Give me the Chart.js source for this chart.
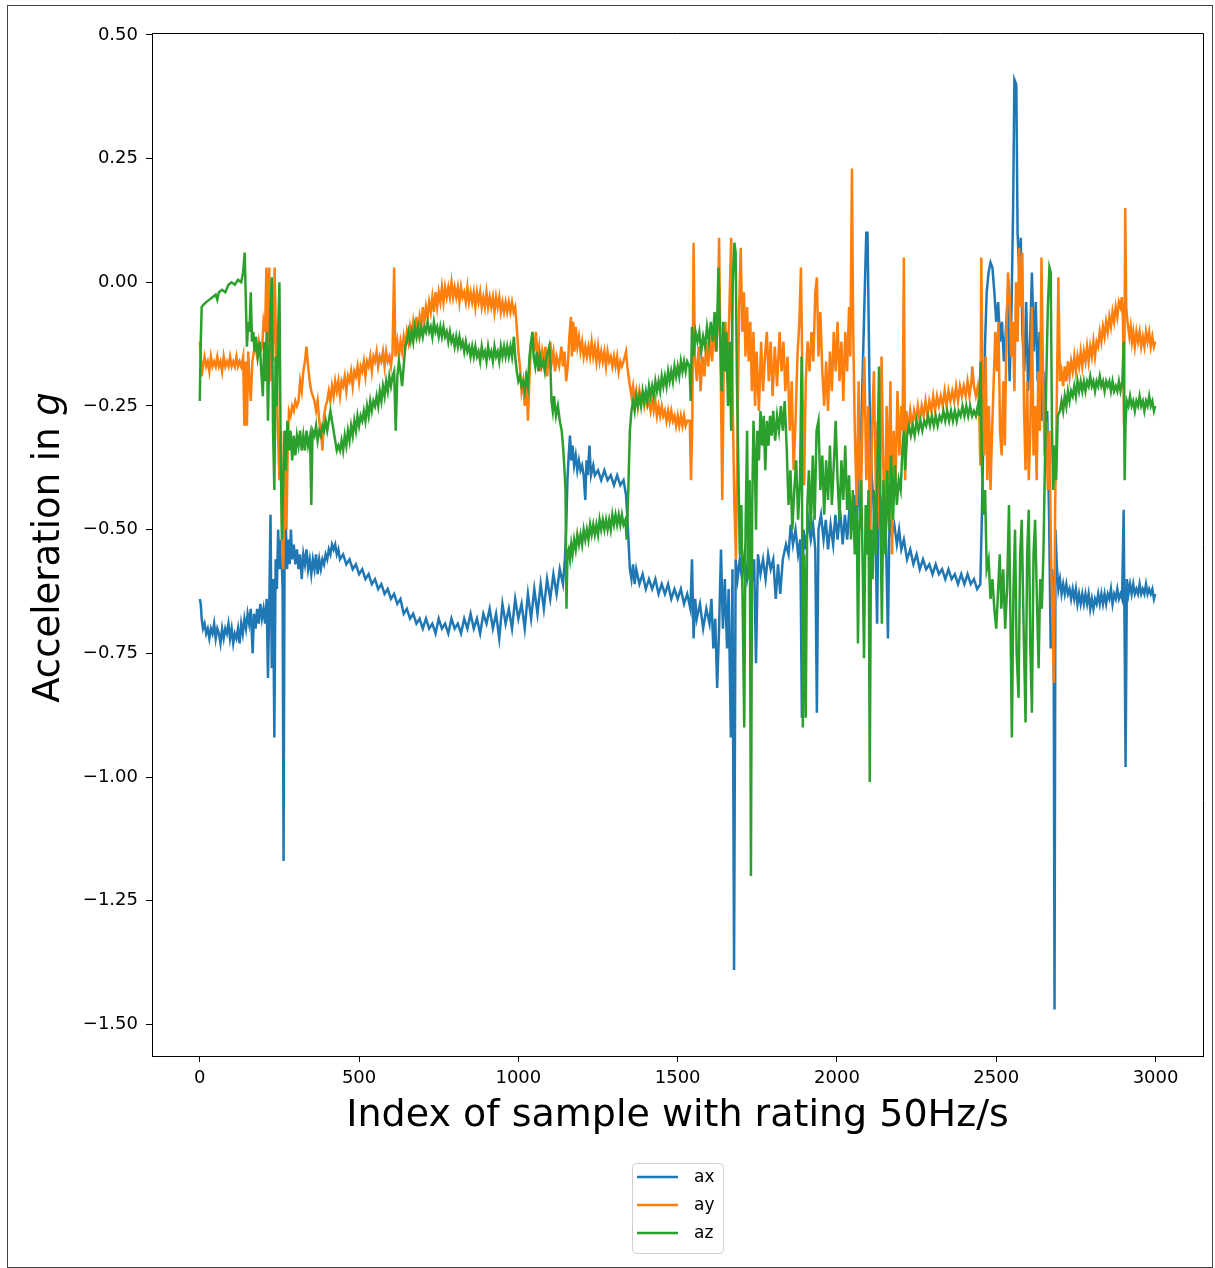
<!DOCTYPE html>
<html>
<head>
<meta charset="utf-8">
<script src="https://cdn.jsdelivr.net/npm/chart.js@4.4.0/dist/chart.umd.min.js"></script>
<style>
  html, body { margin: 0; padding: 0; background: #fff; }
  #wrap { width: 1215px; height: 1268px; position: relative; }
</style>
</head>
<body>
<div id="wrap"><canvas id="myChart" width="1215" height="1268"></canvas></div>
<script>
// ------------- data -------------

const xTicks = [0, 500, 1000, 1500, 2000, 2500, 3000];
const yTicks = [0.5, 0.25, 0, -0.25, -0.5, -0.75, -1, -1.25, -1.5];
const seriesNames = ["ax", "ay", "az"];
const seriesColors = ["#1f77b4", "#ff7f0e", "#2ca02c"];
const xTitle = "Index of sample with rating 50Hz/s";
const yTitle = "Acceleration in ";
const yTitleItalic = "g";

// [sample index, acceleration in g]
const ax = [
  [0,-0.64],[3,-0.65],[6,-0.68],[10,-0.70],[15,-0.69],[20,-0.71],[25,-0.70],[30,-0.72],[35,-0.70],[40,-0.71],
  [45,-0.69],[50,-0.72],[55,-0.70],[60,-0.71],[65,-0.73],[70,-0.70],[75,-0.72],[80,-0.70],[85,-0.71],[90,-0.69],
  [95,-0.72],[100,-0.70],[105,-0.73],[110,-0.71],[115,-0.72],[120,-0.70],[125,-0.73],[130,-0.69],[135,-0.71],[140,-0.68],
  [145,-0.70],[150,-0.67],[155,-0.69],[160,-0.66],[166,-0.75],[170,-0.67],[175,-0.70],[180,-0.66],[185,-0.69],[190,-0.65],
  [195,-0.68],[200,-0.66],[205,-0.69],[210,-0.64],[214,-0.80],[218,-0.66],[222,-0.47],[226,-0.78],[230,-0.60],[234,-0.92],
  [238,-0.56],[242,-0.62],[246,-0.50],[250,-0.58],[255,-0.52],[260,-0.62],[263,-1.17],[266,-0.56],[270,-0.49],[274,-0.58],
  [278,-0.52],[282,-0.57],[286,-0.50],[290,-0.56],[295,-0.53],[300,-0.57],[305,-0.54],[310,-0.58],[315,-0.55],[320,-0.60],
  [325,-0.55],[330,-0.57],[335,-0.54],[340,-0.58],[345,-0.56],[350,-0.59],[355,-0.56],[360,-0.58],[365,-0.55],[370,-0.59],
  [375,-0.56],[380,-0.58],[385,-0.56],[390,-0.57],[395,-0.55],[400,-0.56],[405,-0.54],[410,-0.55],[415,-0.53],[420,-0.54],
  [425,-0.53],[430,-0.55],[435,-0.54],[440,-0.56],[450,-0.55],[460,-0.57],[470,-0.56],[480,-0.58],[490,-0.57],[500,-0.59],
  [510,-0.58],[520,-0.60],[530,-0.59],[540,-0.61],[550,-0.60],[560,-0.62],[570,-0.61],[580,-0.63],[590,-0.62],[600,-0.64],
  [610,-0.63],[620,-0.65],[630,-0.64],[640,-0.67],[650,-0.66],[660,-0.68],[670,-0.67],[680,-0.69],[690,-0.68],[700,-0.70],
  [710,-0.68],[720,-0.70],[730,-0.69],[740,-0.71],[750,-0.68],[760,-0.70],[770,-0.69],[780,-0.71],[790,-0.68],[800,-0.70],
  [810,-0.69],[820,-0.71],[830,-0.68],[840,-0.70],[850,-0.67],[860,-0.70],[870,-0.68],[880,-0.71],[890,-0.67],[900,-0.69],
  [910,-0.66],[920,-0.70],[930,-0.67],[940,-0.72],[950,-0.65],[960,-0.69],[970,-0.66],[980,-0.70],[990,-0.64],[1000,-0.68],
  [1010,-0.65],[1020,-0.70],[1030,-0.63],[1040,-0.68],[1050,-0.62],[1060,-0.67],[1070,-0.61],[1080,-0.66],[1090,-0.60],[1100,-0.64],
  [1110,-0.59],[1120,-0.63],[1130,-0.58],[1140,-0.61],[1146,-0.56],[1150,-0.50],[1154,-0.40],[1158,-0.35],[1162,-0.31],[1166,-0.36],
  [1170,-0.33],[1175,-0.37],[1180,-0.35],[1185,-0.38],[1190,-0.36],[1195,-0.38],[1200,-0.37],[1205,-0.39],[1210,-0.44],[1214,-0.36],
  [1218,-0.39],[1223,-0.33],[1228,-0.39],[1235,-0.37],[1240,-0.39],[1250,-0.38],[1260,-0.40],[1270,-0.38],[1280,-0.40],[1290,-0.39],
  [1300,-0.41],[1310,-0.39],[1320,-0.41],[1330,-0.40],[1338,-0.43],[1344,-0.50],[1350,-0.58],[1355,-0.60],[1360,-0.57],[1365,-0.61],
  [1370,-0.58],[1380,-0.61],[1390,-0.59],[1400,-0.62],[1410,-0.60],[1420,-0.62],[1430,-0.60],[1440,-0.63],[1450,-0.61],[1460,-0.63],
  [1470,-0.61],[1480,-0.64],[1490,-0.62],[1500,-0.64],[1510,-0.62],[1520,-0.65],[1530,-0.63],[1540,-0.66],[1545,-0.56],[1550,-0.72],
  [1555,-0.64],[1560,-0.68],[1570,-0.65],[1580,-0.70],[1590,-0.66],[1600,-0.69],[1606,-0.64],[1612,-0.74],[1618,-0.68],[1624,-0.82],
  [1630,-0.70],[1636,-0.54],[1642,-0.70],[1648,-0.60],[1655,-0.74],[1660,-0.62],[1667,-0.92],[1672,-0.58],[1677,-1.39],[1682,-0.56],
  [1688,-0.60],[1695,-0.56],[1702,-0.60],[1710,-0.55],[1718,-0.60],[1725,-0.57],[1732,-0.61],[1740,-0.56],[1746,-0.77],[1752,-0.55],
  [1760,-0.59],[1768,-0.56],[1776,-0.60],[1784,-0.55],[1792,-0.58],[1800,-0.56],[1808,-0.64],[1815,-0.57],[1822,-0.63],[1830,-0.56],
  [1840,-0.53],[1848,-0.55],[1855,-0.49],[1862,-0.53],[1870,-0.50],[1878,-0.55],[1885,-0.52],[1890,-0.88],[1895,-0.50],[1902,-0.54],
  [1910,-0.48],[1918,-0.52],[1925,-0.49],[1932,-0.54],[1937,-0.87],[1942,-0.50],[1950,-0.47],[1958,-0.52],[1965,-0.48],[1972,-0.54],
  [1980,-0.49],[1988,-0.53],[1995,-0.47],[2002,-0.52],[2010,-0.46],[2018,-0.53],[2025,-0.47],[2032,-0.52],[2040,-0.45],[2048,-0.50],
  [2055,-0.43],[2062,-0.48],[2070,-0.40],[2076,-0.30],[2082,-0.15],[2088,0.00],[2092,0.10],[2096,0.10],[2100,-0.10],[2104,-0.30],
  [2110,-0.40],[2116,-0.46],[2122,-0.55],[2126,-0.69],[2130,-0.47],[2136,-0.43],[2142,-0.50],[2148,-0.46],[2154,-0.52],[2160,-0.72],
  [2165,-0.48],[2172,-0.51],[2180,-0.49],[2188,-0.53],[2195,-0.50],[2202,-0.54],[2210,-0.52],[2220,-0.56],[2230,-0.54],[2240,-0.57],
  [2250,-0.55],[2260,-0.58],[2270,-0.56],[2280,-0.58],[2290,-0.57],[2300,-0.59],[2310,-0.57],[2320,-0.59],[2330,-0.58],[2340,-0.60],
  [2350,-0.58],[2360,-0.60],[2370,-0.59],[2380,-0.61],[2390,-0.59],[2400,-0.61],[2410,-0.59],[2420,-0.61],[2430,-0.60],[2440,-0.62],
  [2450,-0.61],[2455,-0.47],[2460,-0.30],[2465,-0.12],[2470,-0.02],[2476,0.02],[2482,0.04],[2488,0.03],[2494,-0.02],[2500,-0.08],
  [2506,-0.04],[2512,-0.12],[2518,-0.08],[2524,-0.16],[2530,-0.10],[2536,-0.03],[2542,-0.20],[2548,-0.05],[2553,0.15],[2557,0.41],
  [2563,0.40],[2567,0.10],[2572,0.02],[2577,0.09],[2582,-0.10],[2588,-0.18],[2594,-0.04],[2600,-0.22],[2606,-0.12],[2612,0.02],
  [2618,-0.14],[2624,-0.04],[2630,-0.20],[2636,-0.10],[2642,-0.28],[2648,-0.18],[2654,-0.32],[2660,-0.26],[2666,-0.48],[2671,-0.74],
  [2676,-0.58],[2680,-0.64],[2683,-1.47],[2686,-0.50],[2690,-0.57],[2695,-0.62],[2700,-0.60],[2705,-0.63],[2710,-0.61],[2715,-0.63],
  [2720,-0.61],[2725,-0.63],[2730,-0.62],[2735,-0.64],[2740,-0.62],[2745,-0.64],[2750,-0.62],[2755,-0.65],[2760,-0.63],[2765,-0.65],
  [2770,-0.63],[2775,-0.65],[2780,-0.63],[2785,-0.65],[2790,-0.63],[2795,-0.66],[2800,-0.64],[2805,-0.66],[2810,-0.64],[2815,-0.65],
  [2820,-0.63],[2825,-0.65],[2830,-0.63],[2835,-0.65],[2840,-0.63],[2845,-0.65],[2850,-0.63],[2855,-0.64],[2860,-0.62],[2865,-0.65],
  [2870,-0.63],[2875,-0.64],[2880,-0.62],[2885,-0.64],[2890,-0.63],[2895,-0.64],[2900,-0.46],[2903,-0.72],[2906,-0.98],[2910,-0.60],
  [2915,-0.63],[2920,-0.61],[2925,-0.63],[2930,-0.61],[2935,-0.63],[2940,-0.62],[2945,-0.63],[2950,-0.61],[2955,-0.63],[2960,-0.62],
  [2965,-0.63],[2970,-0.61],[2975,-0.63],[2980,-0.62],[2985,-0.63],[2990,-0.62],[2995,-0.64],[2999,-0.63]
];

const ay = [
  [0,-0.12],[3,-0.15],[6,-0.19],[10,-0.17],[15,-0.15],[20,-0.17],[25,-0.16],[30,-0.18],[35,-0.15],[40,-0.17],
  [45,-0.16],[50,-0.17],[55,-0.15],[60,-0.17],[65,-0.16],[70,-0.18],[75,-0.15],[80,-0.17],[85,-0.16],[90,-0.17],
  [95,-0.15],[100,-0.17],[105,-0.16],[110,-0.17],[115,-0.15],[120,-0.17],[125,-0.16],[130,-0.17],[136,-0.15],[140,-0.29],
  [144,-0.16],[148,-0.29],[152,-0.14],[156,-0.20],[160,-0.24],[165,-0.16],[170,-0.14],[175,-0.13],[180,-0.15],[185,-0.12],
  [190,-0.14],[196,-0.13],[200,-0.08],[205,-0.10],[209,0.03],[213,-0.12],[218,0.03],[222,-0.20],[226,-0.05],[230,-0.16],
  [235,0.03],[240,-0.15],[245,-0.30],[250,-0.40],[255,-0.30],[259,-0.55],[262,-0.58],[265,-0.42],[268,-0.30],[272,-0.50],
  [276,-0.34],[280,-0.26],[285,-0.27],[290,-0.25],[295,-0.26],[300,-0.24],[305,-0.25],[310,-0.24],[315,-0.20],[320,-0.22],
  [325,-0.18],[330,-0.16],[335,-0.13],[340,-0.17],[345,-0.20],[350,-0.22],[355,-0.23],[360,-0.24],[365,-0.26],[370,-0.24],
  [375,-0.28],[380,-0.30],[385,-0.34],[390,-0.27],[395,-0.25],[400,-0.24],[405,-0.22],[410,-0.24],[415,-0.21],[420,-0.23],
  [425,-0.20],[430,-0.22],[435,-0.20],[440,-0.23],[445,-0.20],[450,-0.21],[455,-0.19],[460,-0.22],[465,-0.19],[470,-0.20],
  [475,-0.18],[480,-0.21],[485,-0.18],[490,-0.19],[495,-0.17],[500,-0.20],[505,-0.17],[510,-0.18],[515,-0.16],[520,-0.19],
  [525,-0.16],[530,-0.17],[535,-0.15],[540,-0.18],[545,-0.15],[550,-0.16],[555,-0.14],[560,-0.17],[565,-0.15],[570,-0.16],
  [575,-0.14],[580,-0.17],[585,-0.14],[590,-0.16],[595,-0.15],[600,-0.17],[605,-0.14],[610,0.03],[614,-0.15],[620,-0.12],
  [625,-0.15],[630,-0.12],[635,-0.14],[640,-0.11],[645,-0.13],[650,-0.10],[655,-0.12],[660,-0.09],[665,-0.11],[670,-0.08],
  [675,-0.11],[680,-0.07],[685,-0.10],[690,-0.07],[695,-0.09],[700,-0.05],[705,-0.08],[710,-0.05],[715,-0.07],[720,-0.04],
  [725,-0.06],[730,-0.03],[735,-0.06],[740,-0.02],[745,-0.05],[750,-0.02],[755,-0.04],[760,-0.01],[765,-0.04],[770,-0.01],
  [775,-0.03],[780,-0.01],[785,-0.03],[790,0.00],[795,-0.03],[800,-0.01],[805,-0.03],[810,-0.01],[815,-0.04],[820,-0.01],
  [825,-0.03],[830,-0.02],[835,-0.04],[840,-0.01],[845,-0.04],[850,-0.02],[855,-0.04],[860,-0.02],[865,-0.05],[870,-0.02],
  [875,-0.04],[880,-0.02],[885,-0.05],[890,-0.03],[895,-0.05],[900,-0.02],[905,-0.05],[910,-0.03],[915,-0.05],[920,-0.03],
  [925,-0.06],[930,-0.03],[935,-0.05],[940,-0.03],[945,-0.06],[950,-0.04],[955,-0.06],[960,-0.04],[965,-0.06],[970,-0.04],
  [975,-0.06],[980,-0.04],[985,-0.06],[990,-0.05],[995,-0.09],[1000,-0.14],[1005,-0.17],[1010,-0.22],[1015,-0.20],[1020,-0.25],
  [1025,-0.18],[1030,-0.28],[1035,-0.19],[1040,-0.12],[1045,-0.11],[1050,-0.14],[1055,-0.10],[1060,-0.15],[1065,-0.13],[1070,-0.18],
  [1075,-0.14],[1080,-0.16],[1085,-0.13],[1090,-0.19],[1095,-0.15],[1100,-0.12],[1105,-0.16],[1110,-0.14],[1115,-0.18],[1120,-0.15],
  [1128,-0.17],[1135,-0.13],[1140,-0.17],[1145,-0.14],[1150,-0.20],[1155,-0.17],[1160,-0.11],[1165,-0.07],[1168,-0.15],[1172,-0.08],
  [1176,-0.14],[1180,-0.09],[1185,-0.13],[1190,-0.11],[1195,-0.14],[1200,-0.12],[1205,-0.15],[1210,-0.13],[1215,-0.15],[1220,-0.13],
  [1225,-0.15],[1230,-0.12],[1235,-0.15],[1240,-0.13],[1245,-0.16],[1250,-0.13],[1255,-0.16],[1260,-0.14],[1265,-0.16],[1270,-0.14],
  [1275,-0.17],[1280,-0.14],[1285,-0.16],[1290,-0.15],[1295,-0.17],[1300,-0.15],[1305,-0.17],[1310,-0.15],[1315,-0.18],[1320,-0.16],
  [1325,-0.17],[1330,-0.16],[1338,-0.14],[1342,-0.17],[1348,-0.20],[1355,-0.23],[1360,-0.21],[1365,-0.24],[1370,-0.22],[1375,-0.25],
  [1380,-0.22],[1385,-0.24],[1390,-0.23],[1395,-0.25],[1400,-0.23],[1405,-0.25],[1410,-0.24],[1415,-0.26],[1420,-0.24],[1425,-0.26],
  [1430,-0.24],[1435,-0.27],[1440,-0.25],[1445,-0.27],[1450,-0.25],[1455,-0.27],[1460,-0.26],[1465,-0.28],[1470,-0.26],[1475,-0.28],
  [1480,-0.26],[1485,-0.28],[1490,-0.27],[1495,-0.29],[1500,-0.27],[1505,-0.29],[1510,-0.27],[1515,-0.29],[1520,-0.27],[1525,-0.29],
  [1530,-0.28],[1538,-0.28],[1542,-0.40],[1546,-0.28],[1550,0.08],[1554,-0.15],[1560,-0.20],[1566,-0.13],[1572,-0.22],[1578,-0.15],
  [1584,-0.19],[1590,-0.12],[1596,-0.17],[1602,-0.11],[1608,-0.16],[1614,-0.10],[1620,-0.14],[1626,-0.09],[1630,0.09],[1634,-0.12],
  [1640,-0.44],[1645,-0.15],[1650,-0.08],[1656,-0.20],[1662,-0.06],[1668,0.09],[1673,-0.25],[1678,-0.45],[1683,-0.56],[1688,-0.30],
  [1693,-0.05],[1698,0.07],[1703,-0.10],[1708,-0.02],[1713,-0.15],[1718,-0.05],[1723,-0.16],[1728,-0.08],[1733,-0.22],[1738,-0.10],
  [1743,-0.25],[1748,-0.14],[1755,-0.26],[1762,-0.12],[1768,-0.22],[1775,-0.14],[1780,-0.10],[1786,-0.20],[1792,-0.12],[1798,-0.23],
  [1805,-0.13],[1812,-0.21],[1820,-0.10],[1826,-0.18],[1832,-0.12],[1838,-0.22],[1845,-0.15],[1852,-0.30],[1858,-0.20],[1864,-0.38],
  [1870,-0.28],[1876,-0.15],[1882,-0.08],[1887,0.03],[1892,-0.22],[1897,-0.41],[1902,-0.20],[1908,-0.12],[1914,-0.18],[1920,-0.10],
  [1926,-0.16],[1932,-0.02],[1937,0.01],[1942,-0.15],[1948,-0.06],[1954,-0.18],[1960,-0.25],[1966,-0.16],[1972,-0.26],[1978,-0.14],
  [1984,-0.22],[1990,-0.10],[1996,-0.18],[2002,-0.08],[2008,-0.20],[2014,-0.12],[2020,-0.24],[2026,-0.10],[2032,-0.18],[2038,-0.05],
  [2042,-0.15],[2047,0.23],[2051,-0.10],[2056,-0.30],[2062,-0.45],[2068,-0.20],[2074,-0.50],[2080,-0.28],[2086,-0.15],[2092,-0.40],
  [2098,-0.25],[2104,-0.55],[2110,-0.30],[2116,-0.18],[2122,-0.42],[2128,-0.28],[2134,-0.50],[2140,-0.15],[2145,-0.35],[2150,-0.52],
  [2156,-0.25],[2162,-0.40],[2168,-0.20],[2173,-0.55],[2178,-0.30],[2184,-0.40],[2190,-0.22],[2196,-0.35],[2202,-0.25],[2206,-0.30],
  [2210,0.05],[2214,-0.40],[2218,-0.26],[2224,-0.30],[2230,-0.26],[2236,-0.29],[2242,-0.26],[2248,-0.28],[2254,-0.25],[2260,-0.28],
  [2266,-0.25],[2272,-0.27],[2278,-0.24],[2284,-0.27],[2290,-0.24],[2296,-0.26],[2302,-0.23],[2308,-0.26],[2314,-0.23],[2320,-0.25],
  [2326,-0.23],[2332,-0.25],[2338,-0.22],[2344,-0.25],[2350,-0.22],[2356,-0.24],[2362,-0.22],[2368,-0.24],[2374,-0.21],[2380,-0.24],
  [2386,-0.21],[2392,-0.23],[2398,-0.21],[2404,-0.23],[2410,-0.20],[2416,-0.23],[2422,-0.20],[2425,-0.17],[2430,-0.21],[2436,-0.23],
  [2442,-0.21],[2446,-0.24],[2450,-0.37],[2453,0.05],[2457,-0.20],[2462,-0.35],[2467,-0.15],[2472,-0.40],[2477,-0.25],[2482,-0.42],
  [2487,-0.30],[2492,-0.20],[2497,-0.10],[2502,-0.18],[2507,-0.08],[2512,-0.30],[2517,-0.35],[2522,-0.20],[2527,-0.33],[2532,-0.10],
  [2537,0.02],[2542,-0.03],[2547,-0.15],[2552,-0.08],[2557,-0.22],[2562,0.00],[2567,-0.12],[2572,0.07],[2577,-0.05],[2582,0.06],
  [2587,-0.25],[2592,-0.38],[2597,-0.20],[2602,-0.40],[2607,-0.30],[2612,-0.05],[2617,-0.35],[2622,-0.25],[2627,-0.40],[2632,-0.18],
  [2637,-0.30],[2642,0.05],[2647,-0.20],[2652,-0.35],[2657,-0.28],[2662,-0.42],[2667,-0.30],[2672,-0.55],[2677,-0.70],[2681,-0.81],
  [2685,-0.45],[2690,-0.24],[2695,0.01],[2700,-0.20],[2705,-0.18],[2710,-0.21],[2715,-0.17],[2720,-0.20],[2725,-0.16],[2730,-0.19],
  [2735,-0.16],[2740,-0.18],[2745,-0.15],[2750,-0.18],[2755,-0.15],[2760,-0.17],[2765,-0.14],[2770,-0.17],[2775,-0.14],[2780,-0.16],
  [2785,-0.13],[2790,-0.16],[2795,-0.13],[2800,-0.15],[2805,-0.12],[2810,-0.15],[2815,-0.12],[2820,-0.13],[2825,-0.10],[2830,-0.12],
  [2835,-0.09],[2840,-0.11],[2845,-0.08],[2850,-0.10],[2855,-0.07],[2860,-0.09],[2865,-0.06],[2870,-0.08],[2875,-0.05],[2880,-0.07],
  [2885,-0.04],[2890,-0.05],[2894,-0.03],[2898,-0.08],[2901,-0.29],[2905,0.15],[2908,-0.05],[2912,-0.08],[2918,-0.11],[2922,-0.09],
  [2926,-0.12],[2930,-0.10],[2935,-0.13],[2940,-0.10],[2945,-0.12],[2950,-0.10],[2955,-0.13],[2960,-0.11],[2965,-0.13],[2970,-0.10],
  [2975,-0.12],[2980,-0.10],[2985,-0.13],[2990,-0.11],[2995,-0.13],[2999,-0.12]
];

const az = [
  [0,-0.24],[3,-0.12],[6,-0.05],[12,-0.045],[20,-0.04],[30,-0.035],[40,-0.03],[50,-0.025],[55,-0.035],[60,-0.02],
  [70,-0.015],[80,-0.02],[90,-0.005],[100,0.00],[110,-0.005],[120,0.005],[130,0.00],[136,0.02],[141,0.06],[145,-0.05],
  [148,-0.13],[152,-0.08],[156,-0.10],[160,-0.02],[164,-0.12],[168,-0.10],[172,-0.14],[176,-0.11],[182,-0.15],[188,-0.12],
  [193,-0.18],[198,-0.23],[202,-0.12],[206,-0.20],[210,-0.10],[214,-0.28],[218,-0.15],[222,-0.05],[226,0.01],[230,-0.30],
  [234,-0.42],[238,-0.15],[242,-0.25],[246,-0.10],[250,0.00],[254,-0.35],[258,-0.52],[262,-0.40],[266,-0.30],[270,-0.38],
  [275,-0.28],[280,-0.34],[285,-0.30],[290,-0.36],[295,-0.31],[300,-0.35],[305,-0.31],[310,-0.33],[315,-0.30],[320,-0.34],
  [325,-0.31],[330,-0.34],[335,-0.30],[340,-0.33],[346,-0.31],[350,-0.45],[354,-0.30],[360,-0.31],[365,-0.29],[370,-0.32],
  [375,-0.30],[380,-0.31],[385,-0.29],[390,-0.30],[395,-0.28],[400,-0.30],[405,-0.28],[410,-0.26],[415,-0.28],[420,-0.30],
  [425,-0.32],[430,-0.34],[435,-0.33],[440,-0.34],[445,-0.32],[450,-0.34],[455,-0.31],[460,-0.33],[465,-0.30],[470,-0.32],
  [475,-0.29],[480,-0.31],[485,-0.28],[490,-0.30],[495,-0.27],[500,-0.29],[505,-0.27],[510,-0.28],[515,-0.26],[520,-0.28],
  [525,-0.25],[530,-0.27],[535,-0.24],[540,-0.26],[545,-0.24],[550,-0.25],[555,-0.23],[560,-0.25],[565,-0.22],[570,-0.24],
  [575,-0.21],[580,-0.23],[585,-0.20],[590,-0.22],[595,-0.19],[600,-0.21],[605,-0.19],[610,-0.18],[615,-0.30],[620,-0.19],
  [625,-0.16],[630,-0.18],[635,-0.21],[640,-0.17],[645,-0.13],[650,-0.12],[655,-0.10],[660,-0.12],[665,-0.10],[670,-0.12],
  [675,-0.09],[680,-0.11],[685,-0.09],[690,-0.11],[695,-0.09],[700,-0.11],[705,-0.09],[710,-0.10],[715,-0.08],[720,-0.10],
  [725,-0.09],[730,-0.11],[735,-0.08],[740,-0.10],[745,-0.09],[750,-0.11],[755,-0.09],[760,-0.11],[765,-0.09],[770,-0.11],
  [775,-0.10],[780,-0.12],[785,-0.10],[790,-0.12],[795,-0.11],[800,-0.13],[805,-0.11],[810,-0.13],[815,-0.11],[820,-0.13],
  [825,-0.12],[830,-0.14],[835,-0.12],[840,-0.14],[845,-0.13],[850,-0.15],[855,-0.13],[860,-0.15],[865,-0.13],[870,-0.15],
  [875,-0.14],[880,-0.16],[885,-0.13],[890,-0.15],[895,-0.14],[900,-0.16],[905,-0.13],[910,-0.15],[915,-0.14],[920,-0.16],
  [925,-0.13],[930,-0.15],[935,-0.14],[940,-0.16],[945,-0.13],[950,-0.15],[955,-0.13],[960,-0.15],[965,-0.13],[970,-0.15],
  [975,-0.13],[980,-0.15],[986,-0.11],[990,-0.15],[995,-0.18],[1000,-0.20],[1005,-0.19],[1010,-0.21],[1015,-0.20],[1020,-0.22],
  [1025,-0.19],[1030,-0.21],[1035,-0.15],[1040,-0.12],[1044,-0.10],[1048,-0.15],[1053,-0.17],[1058,-0.14],[1063,-0.18],[1068,-0.15],
  [1073,-0.17],[1078,-0.16],[1083,-0.18],[1088,-0.15],[1093,-0.14],[1097,-0.13],[1100,-0.16],[1104,-0.24],[1108,-0.26],[1112,-0.23],
  [1118,-0.27],[1124,-0.25],[1130,-0.28],[1136,-0.30],[1140,-0.33],[1144,-0.37],[1148,-0.42],[1151,-0.66],[1154,-0.55],[1158,-0.54],
  [1162,-0.56],[1166,-0.53],[1170,-0.55],[1175,-0.52],[1180,-0.54],[1185,-0.51],[1190,-0.53],[1195,-0.51],[1200,-0.53],[1205,-0.50],
  [1210,-0.52],[1215,-0.50],[1220,-0.52],[1225,-0.49],[1230,-0.51],[1235,-0.49],[1240,-0.51],[1245,-0.49],[1250,-0.51],[1255,-0.48],
  [1260,-0.50],[1265,-0.48],[1270,-0.50],[1275,-0.48],[1280,-0.50],[1285,-0.48],[1290,-0.50],[1295,-0.47],[1300,-0.49],[1305,-0.47],
  [1310,-0.49],[1315,-0.47],[1320,-0.49],[1325,-0.47],[1330,-0.49],[1336,-0.48],[1340,-0.52],[1345,-0.42],[1350,-0.30],[1355,-0.26],
  [1360,-0.24],[1365,-0.26],[1370,-0.23],[1375,-0.25],[1380,-0.23],[1385,-0.25],[1390,-0.22],[1395,-0.24],[1400,-0.22],[1405,-0.24],
  [1410,-0.21],[1415,-0.23],[1420,-0.21],[1425,-0.23],[1430,-0.20],[1435,-0.22],[1440,-0.20],[1445,-0.22],[1450,-0.19],[1455,-0.21],
  [1460,-0.19],[1465,-0.21],[1470,-0.18],[1475,-0.20],[1480,-0.18],[1485,-0.20],[1490,-0.17],[1495,-0.19],[1500,-0.17],[1505,-0.19],
  [1510,-0.16],[1515,-0.18],[1520,-0.16],[1525,-0.18],[1530,-0.16],[1537,-0.17],[1541,-0.24],[1545,-0.09],[1550,-0.15],[1556,-0.10],
  [1562,-0.12],[1568,-0.10],[1574,-0.14],[1580,-0.11],[1586,-0.13],[1592,-0.09],[1598,-0.12],[1604,-0.08],[1610,-0.12],[1616,-0.06],
  [1622,-0.14],[1628,0.03],[1633,-0.10],[1638,-0.22],[1643,-0.08],[1648,-0.18],[1653,-0.10],[1658,-0.25],[1663,-0.12],[1668,-0.30],
  [1673,0.00],[1678,0.08],[1682,0.06],[1686,-0.20],[1690,-0.35],[1695,-0.55],[1700,-0.45],[1705,-0.70],[1709,-0.90],[1713,-0.50],
  [1718,-0.30],[1722,-0.60],[1726,-0.40],[1730,-1.20],[1734,-0.45],[1738,-0.28],[1742,-0.35],[1746,-0.50],[1750,-0.30],[1755,-0.36],
  [1760,-0.26],[1765,-0.33],[1770,-0.27],[1775,-0.38],[1780,-0.28],[1785,-0.33],[1790,-0.27],[1795,-0.31],[1800,-0.26],[1806,-0.32],
  [1812,-0.27],[1818,-0.30],[1824,-0.25],[1830,-0.30],[1836,-0.24],[1842,-0.33],[1848,-0.45],[1854,-0.38],[1860,-0.50],[1866,-0.42],
  [1872,-0.36],[1878,-0.48],[1884,-0.40],[1889,-0.15],[1893,-0.90],[1897,-0.55],[1902,-0.88],[1907,-0.45],[1912,-0.38],[1918,-0.50],
  [1924,-0.35],[1930,-0.48],[1936,-0.30],[1942,-0.28],[1948,-0.42],[1954,-0.35],[1960,-0.47],[1966,-0.36],[1972,-0.44],[1978,-0.33],
  [1984,-0.45],[1990,-0.37],[1996,-0.28],[2002,-0.40],[2008,-0.48],[2014,-0.36],[2020,-0.44],[2026,-0.33],[2032,-0.46],[2038,-0.39],
  [2044,-0.52],[2050,-0.42],[2056,-0.55],[2062,-0.45],[2066,-0.73],[2070,-0.50],[2076,-0.40],[2081,-0.58],[2085,-0.76],[2090,-0.45],
  [2095,-0.55],[2099,-0.42],[2103,-1.01],[2107,-0.50],[2112,-0.60],[2117,-0.42],[2122,-0.55],[2127,-0.38],[2132,-0.17],[2136,-0.45],
  [2141,-0.69],[2146,-0.40],[2152,-0.55],[2158,-0.38],[2164,-0.50],[2170,-0.35],[2176,-0.48],[2182,-0.37],[2188,-0.45],[2194,-0.40],
  [2200,-0.42],[2206,-0.33],[2210,-0.30],[2214,-0.38],[2220,-0.31],[2226,-0.29],[2232,-0.31],[2238,-0.29],[2244,-0.31],[2250,-0.28],
  [2256,-0.30],[2262,-0.28],[2268,-0.30],[2274,-0.28],[2280,-0.29],[2286,-0.27],[2292,-0.29],[2298,-0.27],[2304,-0.29],[2310,-0.27],
  [2316,-0.29],[2322,-0.27],[2328,-0.28],[2334,-0.26],[2340,-0.28],[2346,-0.26],[2352,-0.28],[2358,-0.26],[2364,-0.28],[2370,-0.26],
  [2376,-0.28],[2382,-0.26],[2388,-0.27],[2394,-0.25],[2400,-0.27],[2406,-0.25],[2412,-0.27],[2418,-0.25],[2424,-0.27],[2430,-0.26],
  [2436,-0.27],[2442,-0.25],[2446,-0.27],[2451,-0.16],[2455,-0.37],[2460,-0.47],[2465,-0.42],[2470,-0.58],[2476,-0.56],[2482,-0.64],
  [2488,-0.60],[2494,-0.66],[2500,-0.70],[2506,-0.62],[2511,-0.55],[2516,-0.66],[2522,-0.58],[2528,-0.70],[2534,-0.62],[2540,-0.45],
  [2545,-0.70],[2549,-0.92],[2554,-0.62],[2559,-0.50],[2564,-0.75],[2570,-0.84],[2575,-0.55],[2580,-0.48],[2586,-0.70],[2592,-0.89],
  [2597,-0.55],[2602,-0.46],[2607,-0.74],[2612,-0.87],[2617,-0.55],[2622,-0.48],[2628,-0.65],[2633,-0.78],[2638,-0.60],[2643,-0.66],
  [2648,-0.55],[2652,-0.40],[2657,-0.20],[2662,-0.05],[2667,0.03],[2671,0.02],[2675,-0.30],[2679,-0.42],[2683,-0.33],[2688,-0.40],
  [2693,-0.27],[2700,-0.26],[2705,-0.24],[2710,-0.26],[2715,-0.23],[2720,-0.25],[2725,-0.22],[2730,-0.24],[2735,-0.22],[2740,-0.23],
  [2745,-0.21],[2750,-0.23],[2755,-0.20],[2760,-0.22],[2765,-0.20],[2770,-0.22],[2775,-0.20],[2780,-0.22],[2785,-0.20],[2790,-0.21],
  [2795,-0.19],[2800,-0.21],[2805,-0.20],[2810,-0.22],[2815,-0.20],[2820,-0.21],[2825,-0.19],[2830,-0.21],[2835,-0.20],[2840,-0.22],
  [2845,-0.20],[2850,-0.21],[2855,-0.20],[2860,-0.22],[2865,-0.20],[2870,-0.22],[2875,-0.21],[2880,-0.22],[2885,-0.20],[2890,-0.22],
  [2896,-0.20],[2900,-0.12],[2903,-0.40],[2906,-0.28],[2910,-0.24],[2915,-0.25],[2920,-0.23],[2925,-0.25],[2930,-0.24],[2935,-0.26],
  [2940,-0.24],[2945,-0.25],[2950,-0.23],[2955,-0.25],[2960,-0.24],[2965,-0.26],[2970,-0.24],[2975,-0.25],[2980,-0.23],[2985,-0.25],
  [2990,-0.24],[2995,-0.26],[2999,-0.25]
];

// ------------- extras drawn by hand (spines, titles, legend, frame) -------------

const extras = {
  id: "extras",
  afterDraw(chart) {
    const ctx = chart.ctx;
    const a = chart.chartArea;
    ctx.save();

    // top + right spines
    ctx.strokeStyle = "#000";
    ctx.lineWidth = 1;
    ctx.beginPath();
    ctx.moveTo(a.left, a.top + 0.5);
    ctx.lineTo(a.right + 0.5, a.top + 0.5);
    ctx.lineTo(a.right + 0.5, a.bottom);
    ctx.stroke();

    // x title
    ctx.fillStyle = "#000";
    ctx.font = "38px 'DejaVu Sans'";
    ctx.textAlign = "center";
    ctx.textBaseline = "alphabetic";
    ctx.fillText(xTitle, (a.left + a.right) / 2, 1126);

    // y title with italic g
    ctx.save();
    ctx.translate(59, (a.top + a.bottom) / 2 + 3);
    ctx.rotate(-Math.PI / 2);
    ctx.font = "37px 'DejaVu Sans'";
    const w1 = ctx.measureText(yTitle).width;
    ctx.font = "italic 37px 'DejaVu Sans'";
    const w2 = ctx.measureText(yTitleItalic).width;
    ctx.textAlign = "left";
    ctx.font = "37px 'DejaVu Sans'";
    ctx.fillText(yTitle, -(w1 + w2) / 2, 0);
    ctx.font = "italic 37px 'DejaVu Sans'";
    ctx.fillText(yTitleItalic, -(w1 + w2) / 2 + w1, 0);
    ctx.restore();

    // legend box
    const lx = 632, ly = 1163, lw = 91, lh = 90;
    ctx.strokeStyle = "#d0d0d0";
    ctx.lineWidth = 1;
    ctx.beginPath();
    ctx.roundRect(lx + 0.5, ly + 0.5, lw, lh, 4);
    ctx.stroke();
    ctx.font = "17px 'DejaVu Sans'";
    ctx.textAlign = "left";
    ctx.textBaseline = "middle";
    seriesNames.forEach((name, i) => {
      const yy = 1177 + i * 28;
      ctx.strokeStyle = seriesColors[i];
      ctx.lineWidth = 2.5;
      ctx.beginPath();
      ctx.moveTo(637, yy);
      ctx.lineTo(678, yy);
      ctx.stroke();
      ctx.fillStyle = "#000";
      ctx.fillText(name, 694, yy + 1);
    });

    // outer frame of the picture
    ctx.strokeStyle = "#444";
    ctx.lineWidth = 1;
    ctx.strokeRect(7.5, 5.5, 1205, 1262);
    ctx.restore();
  }
};

// ------------- chart -------------

const tickFont = { family: "DejaVu Sans", size: 18 };

new Chart("myChart", {
  type: "line",
  data: {
    datasets: [ax, ay, az].map((pts, i) => ({
      label: seriesNames[i],
      data: pts.map(p => ({ x: p[0], y: p[1] })),
      borderColor: seriesColors[i],
      borderWidth: 2.5,
      pointRadius: 0,
      tension: 0,
      fill: false,
      order: 2 - i
    }))
  },
  options: {
    responsive: false,
    animation: false,
    layout: { padding: { left: 0, top: 33, right: 12, bottom: 0 } },
    plugins: { legend: { display: false }, tooltip: { enabled: false } },
    scales: {
      x: {
        type: "linear",
        min: -150,
        max: 3149,
        afterBuildTicks: s => { s.ticks = xTicks.map(v => ({ value: v })); },
        afterFit: s => { s.height = 212; },
        grid: { drawOnChartArea: false, drawTicks: true, tickLength: 6, color: "#000", tickColor: "#000" },
        border: { display: true, color: "#000", width: 1 },
        ticks: { color: "#000", font: tickFont, padding: 6, maxRotation: 0, autoSkip: false, callback: v => String(v) }
      },
      y: {
        type: "linear",
        min: -1.564,
        max: 0.504,
        afterBuildTicks: s => { s.ticks = yTicks.map(v => ({ value: v })); },
        afterFit: s => { s.width = 152; },
        grid: { drawOnChartArea: false, drawTicks: true, tickLength: 6, color: "#000", tickColor: "#000" },
        border: { display: true, color: "#000", width: 1 },
        ticks: {
          color: "#000", font: tickFont, padding: 8, autoSkip: false,
          callback: v => (v < 0 ? "\u2212" : "") + Math.abs(v).toFixed(2)
        }
      }
    }
  },
  plugins: [extras]
});
</script>
</body>
</html>
